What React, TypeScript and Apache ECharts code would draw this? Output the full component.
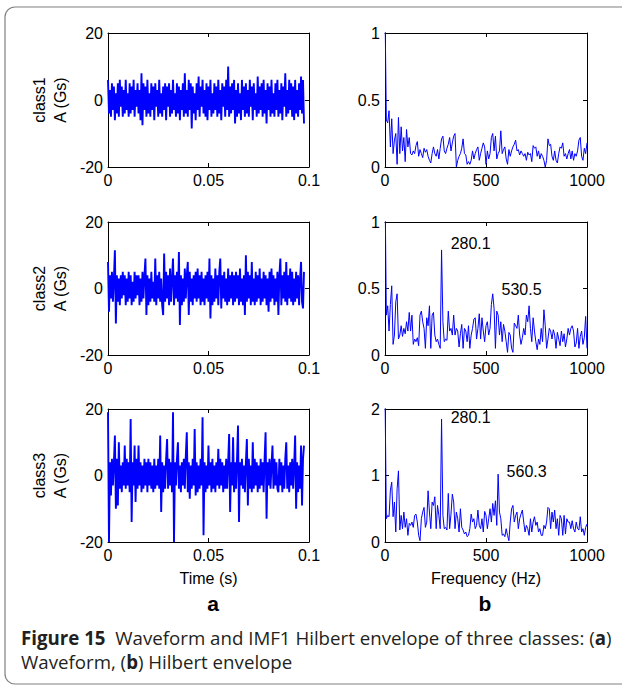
import React, { useEffect, useRef } from 'react';
import * as echarts from 'echarts';

// ---- data ----
const SAMPLE_DT = 0.00049; // s per sample
const FREQ_STEP = 1000 / 150; // Hz per bin

const CLASSES = ['class1', 'class2', 'class3'];
const TIME_TICKS = [0, 0.05, 0.1];
const FREQ_TICKS = [0, 500, 1000];

const WAVE1 = [
  6, -4, 3, -5, 5, -3, 4, -6, 2, -4,
  5, -5, 6, -2, 4, -5, 3, -4, 6, -3,
  2, -5, 5, -4, 4, -3, 6, -5, 3, -2,
  5, -4, 3, -6, 8, -7.5, 5, -3, 4, -5,
  6, -4, 2, -5, 5, -3, 4, -6, 5, -2,
  3, -5, 6, -4, 2, -5, 4, -3, 5, -6,
  4, -2, 5, -5, 3, -4, 6, -3, 2, -5,
  5, -4, 4, -6, 3, -3, 5, -5, 8, -4,
  3, -5, 6, -3, 5, -8.5, 4, -4, 2, -6,
  5, -3, 7, -5, 4, -2, 6, -4, 3, -5,
  5, -6, 4, -3, 6, -5, 2, -4, 5, -3,
  4, -5, 6, -4, 3, -6, 5, -2, 4, -5,
  6, -3, 10, -5, 4, -4, 5, -3, 6, -7,
  3, -5, 5, -4, 2, -6, 6, -3, 4, -5,
  5, -4, 3, -5, 6, -2, 4, -6, 5, -3,
  2, -5, 7, -4, 4, -3, 5, -5, 6, -4,
  3, -7, 5, -3, 4, -5, 6, -4, 2, -5,
  5, -3, 6, -5, 3, -4, 5, -6, 4, -2,
  8, -5, 3, -4, 6, -3, 5, -5, 4, -6,
  6, -4, 3, -5, 5, -3, 7, -4, 6, -7,
];

const WAVE2 = [
  8, -7, 4, -3, 5, -4, 3, 11.5, -10.5, 4,
  -4, 3, -5, 4, -3, 5, -2, 4, -5, 3,
  -4, 5, -3, 4, -5, 2, -4, 5, -3, 4,
  -2, 4, -5, 3, -4, 5, -3, 4, 9, -8,
  4, -5, 3, -4, 5, -3, 2, -4, 9, -5,
  4, -3, 5, -4, 3, -5, -8, 10.5, -4, 5,
  -3, 4, -5, 6, -4, 3, 9, -5, 4, -3,
  5, -4, 11, -11, 4, -5, 3, -4, 6, -3,
  4, 8, -8, 5, -4, 3, -5, 4, -3, 5,
  -4, 6, -3, 4, -5, 5, -4, 3, -5, 4,
  -3, 5, -4, 9, -9, 4, -5, 3, -4, 6,
  -3, 4, -5, 5, 9, -6, 4, -3, 5, -4,
  3, -5, 6, -4, 4, -3, 5, -5, 4, -4,
  5, -3, 4, -5, 6, -4, 3, -5, 4, -8,
  10, -4, 5, -3, 4, -5, 8, -4, 3, -5,
  5, -4, 4, -3, 6, -5, 3, -4, 5, -3,
  4, -5, 3, -7, 5, -4, 6, -3, 4, -5,
  3, -4, 5, -8, 4, 9, -5, 4, -3, 5,
  -4, 8, -5, 4, -3, 6, -4, 5, -5, 3,
  -4, 5, -3, 4, -5, 3, 8, -4, -6, 5,
];

const WAVE3 = [
  19, -20, 4, -6, 5, -3, 4, 12, -10, 5,
  -9, 10, -4, 3, -5, 4, -3, 9, -4, 5,
  -3, 4, -5, 17, -14, 4, -3, 9, -8, 5,
  -4, 9, -3, 4, -5, 3, -4, 5, -3, 4,
  -5, 5, -3, 4, -4, 3, -5, 5, -4, 3,
  -3, 5, -4, 12, -11, 4, -5, 3, -4, 5,
  11, -4, 5, -3, 4, -5, 19, -20, 4, -3,
  5, 10, -4, 3, -5, 4, -3, 5, -4, 6,
  13, -5, 4, -7, 3, -4, 5, -3, 14, -6,
  4, -5, 3, -4, 5, -3, 17.5, -18, 4, -5,
  3, -4, 9, -3, 4, -5, 5, -4, 3, -5,
  4, -3, 8, -4, 5, -3, 4, -5, 3, -4,
  5, -4, 4, 12.5, -11, 4, -3, 11.5, -5, 4,
  -4, 5, 15, -14, 4, -3, 5, -4, 3, -5,
  4, 11, -9, 5, -4, 3, -5, 10, -4, 5,
  -3, 4, -5, 3, -4, 5, -3, 4, -5, 5,
  13, -13, 4, -3, 5, -4, 3, 9, -4, 5,
  -3, 4, -4, -5, 5, -3, 4, -5, 3, -4,
  5, 10, -4, 3, -5, 4, -3, 5, -4, 3,
  12, -10, 4, -5, 3, -4, 9, -9, 5, 9,
];

const ENV1 = [
  1.2,
  0.35, 0.33, 0.42, 0.15, 0.36, 0.10, 0.20, 0.25, 0.02, 0.37,
  0.10, 0.30, 0.12, 0.22, 0.04, 0.28, 0.15, 0.22, 0.10, 0.09,
  0.12, 0.10, 0.16, 0.19, 0.08, 0.13, 0.10, 0.07, 0.14, 0.11,
  0.13, 0.08, 0.05, 0.03, 0.10, 0.15, 0.10, 0.08, 0.13, 0.06,
  0.14, 0.21, 0.23, 0.12, 0.10, 0.14, 0.17, 0.22, 0.12, 0.18,
  0.23, 0.25, 0.00, 0.05, 0.08, 0.10, 0.14, 0.21, 0.10, 0.09,
  0.02, 0.04, 0.02, 0.05, 0.12, 0.06, 0.10, 0.13, 0.15, 0.05,
  0.10, 0.14, 0.18, 0.15, 0.02, 0.12, 0.06, 0.10, 0.22, 0.25,
  0.12, 0.23, 0.06, 0.10, 0.12, 0.27, 0.10, 0.13, 0.15, 0.06,
  0.02, 0.13, 0.08, 0.12, 0.15, 0.17, 0.20, 0.12, 0.13, 0.09,
  0.12, 0.10, 0.08, 0.10, 0.05, 0.11, 0.09, 0.10, 0.04, 0.16,
  0.14, 0.15, 0.08, 0.12, 0.06, 0.10, 0.08, 0.05, 0.00, 0.05,
  0.21, 0.16, 0.17, 0.08, 0.05, 0.12, 0.05, 0.03, 0.10, 0.15,
  0.14, 0.18, 0.08, 0.10, 0.06, 0.10, 0.13, 0.06, 0.12, 0.05,
  0.10, 0.08, 0.12, 0.20, 0.22, 0.08, 0.05, 0.14, 0.10, 0.18,
];

const ENV2 = [
  1.3,
  0.30, 0.37, 0.18, 0.38, 0.52, 0.08, 0.15, 0.40, 0.46, 0.12,
  0.15, 0.22, 0.14, 0.20, 0.16, 0.25, 0.18, 0.32, 0.18, 0.30,
  0.08, 0.12, 0.10, 0.13, 0.07, 0.30, 0.33, 0.25, 0.20, 0.05,
  0.28, 0.22, 0.37, 0.05, 0.30, 0.32, 0.15, 0.10, 0.12, 0.08,
  0.05, 0.79, 0.25, 0.10, 0.12, 0.11, 0.33, 0.18, 0.20, 0.15,
  0.30, 0.15, 0.20, 0.18, 0.06, 0.16, 0.23, 0.05, 0.20, 0.18,
  0.10, 0.22, 0.05, 0.15, 0.20, 0.27, 0.28, 0.12, 0.20, 0.31,
  0.12, 0.28, 0.18, 0.10, 0.22, 0.25, 0.15, 0.20, 0.38, 0.46,
  0.35, 0.05, 0.33, 0.30, 0.15, 0.25, 0.10, 0.23, 0.18, 0.10,
  0.02, 0.17, 0.15, 0.05, 0.02, 0.24, 0.22, 0.20, 0.30, 0.15,
  0.08, 0.13, 0.20, 0.15, 0.30, 0.25, 0.37, 0.20, 0.10, 0.28,
  0.18, 0.10, 0.04, 0.12, 0.08, 0.20, 0.10, 0.34, 0.22, 0.05,
  0.12, 0.20, 0.18, 0.12, 0.19, 0.15, 0.05, 0.17, 0.12, 0.07,
  0.18, 0.10, 0.16, 0.06, 0.12, 0.20, 0.15, 0.20, 0.22, 0.18,
  0.06, 0.09, 0.20, 0.05, 0.14, 0.18, 0.08, 0.13, 0.29, 0.05,
];

const ENV3 = [
  2.3,
  0.35, 0.40, 0.38, 0.78, 0.90, 0.38, 0.60, 0.15, 0.80, 1.07,
  0.18, 0.40, 0.20, 0.45, 0.22, 0.35, 0.10, 0.28, 0.25, 0.30,
  0.22, 0.40, 0.42, 0.30, 0.10, 0.02, 0.35, 0.45, 0.52, 0.22,
  0.30, 0.77, 0.45, 0.20, 0.60, 0.55, 0.68, 0.20, 0.55, 0.40,
  0.20, 1.85, 0.40, 0.20, 0.22, 0.18, 0.73, 0.20, 0.42, 0.72,
  0.60, 0.20, 0.45, 0.35, 0.15, 0.50, 0.22, 0.18, 0.12, 0.15,
  0.08, 0.10, 0.20, 0.42, 0.30, 0.35, 0.20, 0.25, 0.48, 0.25,
  0.20, 0.35, 0.15, 0.46, 0.40, 0.20, 0.35, 0.50, 0.30, 0.58,
  0.40, 0.62, 0.25, 1.02, 0.45, 0.35, 0.10, 0.12, 0.08, 0.20,
  0.10, 0.02, 0.30, 0.50, 0.55, 0.30, 0.40, 0.45, 0.20, 0.35,
  0.42, 0.48, 0.30, 0.15, 0.25, 0.20, 0.10, 0.35, 0.15, 0.30,
  0.38, 0.25, 0.30, 0.15, 0.20, 0.10, 0.10, 0.25, 0.20, 0.30,
  0.52, 0.50, 0.20, 0.45, 0.30, 0.48, 0.20, 0.35, 0.10, 0.40,
  0.35, 0.10, 0.40, 0.12, 0.35, 0.30, 0.30, 0.20, 0.32, 0.20,
  0.15, 0.30, 0.20, 0.18, 0.38, 0.15, 0.20, 0.10, 0.22, 0.27,
];

// peak annotations: [label, frequency at text's left edge, amplitude at text centre]
const ANNOT2: [string, number, number][] = [['280.1', 325, 0.84], ['530.5', 577, 0.49]];
const ANNOT3: [string, number, number][] = [['280.1', 325, 1.87], ['560.3', 602, 1.06]];

const ENV_MAX = [1, 1, 2];
const ENV_INTERVAL = [0.5, 0.5, 1];

const FONT = "'Liberation Sans', Arial, Helvetica, sans-serif";
const CAP_FONT = "'Open Sans', 'Noto Sans', sans-serif";
const BLUE = '#0000ff';

export default function App() {
  const ref = useRef<HTMLDivElement>(null);
  useEffect(() => {
    document.body.style.margin = '0';
    const chart = echarts.init(ref.current!, null, { renderer: 'svg' });

    const rowsTop = [33, 222, 409];
    const rowsH = [134, 133, 133];
    const grids: any[] = [];
    const xAxes: any[] = [];
    const yAxes: any[] = [];
    const series: any[] = [];
    const waves = [WAVE1, WAVE2, WAVE3];
    const envs = [ENV1, ENV2, ENV3];
    const annots = [[], ANNOT2, ANNOT3];

    const tickLabel = { color: '#000', fontSize: 16, fontFamily: FONT };
    const lineStyle = { color: '#000', width: 1 };

    const fmtNum = (v: number) => String(Number(v.toFixed(3)));

    for (let r = 0; r < 3; r++) {
      for (let c = 0; c < 2; c++) {
        const g = r * 2 + c;
        grids.push({
          left: c === 0 ? 108 : 385,
          top: rowsTop[r],
          width: c === 0 ? 201 : 202,
          height: rowsH[r],
          containLabel: false,
        });
        const isWave = c === 0;
        const xBase: any = {
          type: 'value',
          gridIndex: g,
          min: 0,
          max: isWave ? TIME_TICKS[2] : FREQ_TICKS[2],
          interval: isWave ? TIME_TICKS[1] : FREQ_TICKS[1],
          splitLine: { show: false },
          axisLine: { show: true, onZero: false, lineStyle },
          axisTick: { show: true, inside: true, length: 4, lineStyle },
        };
        xAxes.push({
          ...xBase,
          position: 'bottom',
          axisLabel: { ...tickLabel, margin: 5, showMinLabel: true, showMaxLabel: true, formatter: fmtNum },
          name: r === 2 ? (isWave ? 'Time (s)' : 'Frequency (Hz)') : '',
          nameLocation: 'middle',
          nameGap: 28,
          nameTextStyle: { color: '#000', fontSize: 16, fontFamily: FONT },
        });
        xAxes.push({ ...xBase, position: 'top', axisLabel: { show: false } });

        const yBase: any = {
          type: 'value',
          gridIndex: g,
          min: isWave ? -20 : 0,
          max: isWave ? 20 : ENV_MAX[r],
          interval: isWave ? 20 : ENV_INTERVAL[r],
          splitLine: { show: false },
          axisLine: { show: true, onZero: false, lineStyle },
          axisTick: { show: true, inside: true, length: 4, lineStyle },
        };
        yAxes.push({
          ...yBase,
          position: 'left',
          axisLabel: { ...tickLabel, margin: 5, showMinLabel: true, showMaxLabel: true, formatter: fmtNum },
          name: isWave ? CLASSES[r] + '\nA (Gs)' : '',
          nameLocation: 'middle',
          nameRotate: 90,
          nameGap: 37,
          nameTextStyle: { color: '#000', fontSize: 16, lineHeight: 21, fontFamily: FONT },
        });
        yAxes.push({ ...yBase, position: 'right', axisLabel: { show: false } });

        if (isWave) {
          series.push({
            type: 'line',
            xAxisIndex: g * 2,
            yAxisIndex: g * 2,
            data: waves[r].map((v, i) => [i * SAMPLE_DT, v]),
            showSymbol: false,
            symbol: 'none',
            lineStyle: { color: BLUE, width: 1.9 },
            clip: true,
          });
        } else {
          series.push({
            type: 'line',
            xAxisIndex: g * 2,
            yAxisIndex: g * 2,
            data: envs[r].map((v, i) => [i * FREQ_STEP, v]),
            showSymbol: false,
            symbol: 'none',
            lineStyle: { color: BLUE, width: 1 },
            clip: true,
            markPoint: {
              symbol: 'circle',
              symbolSize: 0,
              silent: true,
              animation: false,
              label: {
                show: true,
                position: 'inside',
                align: 'left',
                verticalAlign: 'middle',
                color: '#000',
                fontSize: 16,
                fontFamily: FONT,
              },
              data: (annots[r] as [string, number, number][]).map(([t, f, a]) => ({
                coord: [f, a],
                label: { formatter: t },
              })),
            },
          });
        }
      }
    }

    const option: any = {
      animation: false,
      backgroundColor: '#fff',
      grid: grids,
      xAxis: xAxes,
      yAxis: yAxes,
      series,
      graphic: [
        {
          type: 'rect',
          shape: { x: 5, y: 7, width: 660, height: 677, r: 10 },
          style: { fill: 'none', stroke: '#808080', lineWidth: 1.2 },
          silent: true,
        },
        {
          type: 'text',
          style: { text: 'a', x: 213, y: 603, align: 'center', verticalAlign: 'middle', fontSize: 21, fontWeight: 'bold', fontFamily: FONT, fill: '#000' },
        },
        {
          type: 'text',
          style: { text: 'b', x: 485, y: 603, align: 'center', verticalAlign: 'middle', fontSize: 21, fontWeight: 'bold', fontFamily: FONT, fill: '#000' },
        },
        {
          type: 'text',
          style: {
            x: 21,
            y: 625,
            text: '{b|Figure 15}{n|  Waveform and IMF1 Hilbert envelope of three classes: (}{b|a}{n|)}\n{n|Waveform, (}{b|b}{n|) Hilbert envelope}',
            fill: '#231f20',
            fontFamily: CAP_FONT,
            fontSize: 18.7,
            lineHeight: 24,
            rich: {
              b: { fontWeight: 'bold', fontSize: 18.7, fontFamily: CAP_FONT, fill: '#231f20', lineHeight: 24 },
              n: { fontSize: 18.7, fontFamily: CAP_FONT, fill: '#231f20', lineHeight: 24 },
            },
          },
        },
      ],
    };
    chart.setOption(option);
    return () => chart.dispose();
  }, []);
  return <div ref={ref} style={{ width: 622, height: 686 }} />;
}
